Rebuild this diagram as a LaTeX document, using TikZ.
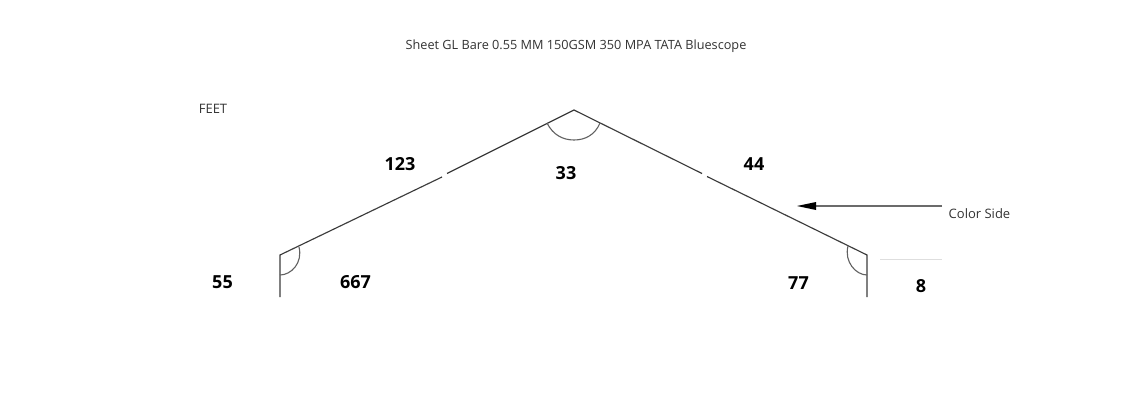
\documentclass[tikz,border=0pt]{standalone}
\usepackage{fontspec}
\setmainfont{Open Sans}
\usetikzlibrary{arrows.meta}
\definecolor{linegrey}{RGB}{60,60,60}
\tikzset{
  profile/.style={draw=linegrey,line width=1.15pt},
  anglearc/.style={draw=black!62,line width=1.1pt},
  dimlabel/.style={font=\fontsize{18}{20}\selectfont\bfseries,text=black,inner sep=0pt,anchor=center},
  titlelabel/.style={font=\fontsize{12.7}{15}\selectfont,text=black!80,inner sep=0pt,anchor=center},
  smalllabel/.style={font=\fontsize{13}{15}\selectfont,text=black!80,inner sep=0pt,anchor=center},
  pointer/.style={draw=black!58,line width=1.8pt},
  pointerhead/.style={fill=black,draw=none},
  faintline/.style={draw=black!13,line width=0.8pt}
}
\begin{document}
\begin{tikzpicture}[x=1pt,y=-1pt]
\useasboundingbox[fill=white] (0,0) rectangle (1138,415);
\coordinate (lb) at (280,297);
\coordinate (lc) at (280,255);
\coordinate (gl1) at (442,177);
\coordinate (gl2) at (447,173.5);
\coordinate (apex) at (574,110);
\coordinate (gr1) at (702,173.5);
\coordinate (gr2) at (707,176.5);
\coordinate (rc) at (867,255);
\coordinate (rb) at (867,297);
\draw[profile,line join=miter] (lb) -- (lc) -- (gl1);
\draw[profile] (gl2) -- (apex) -- (gr1);
\draw[profile] (gr2) -- (rc) -- (rb);
\draw[anglearc] (547,123) .. controls (553,135) and (563,140) .. (574,140) .. controls (585,140) and (595,135) .. (600,123);
\draw[anglearc] (280,275) .. controls (291,275) and (303,263) .. (299,247);
\draw[anglearc] (867,275) .. controls (856,275) and (844,262) .. (848,246);
\coordinate (as) at (942,206);
\coordinate (ae) at (814,206);
\coordinate (at) at (797,206);
\draw[pointer] (as) -- (ae);
\fill[pointerhead] (at) -- (816,202) -- (816,210) -- cycle;
\coordinate (f1) at (880,259.5);
\coordinate (f2) at (942,259.5);
\draw[faintline] (f1) -- (f2);
\node[titlelabel] (title) at (576,46.5) {Sheet GL Bare 0.55 MM 150GSM 350 MPA TATA Bluescope};
\node[smalllabel] (feet) at (213,108.5) {FEET};
\node[smalllabel] (side) at (979.5,213.5) {Color Side};
\node[dimlabel] (n123) at (400,164.5) {123};
\node[dimlabel] (n44) at (754,164.5) {44};
\node[dimlabel] (n33) at (566,173.5) {33};
\node[dimlabel] (n55) at (222.5,282.5) {55};
\node[dimlabel] (n667) at (355.5,282.5) {667};
\node[dimlabel] (n77) at (798.5,283.5) {77};
\node[dimlabel] (n8) at (921,286.5) {8};
\end{tikzpicture}
\end{document}
